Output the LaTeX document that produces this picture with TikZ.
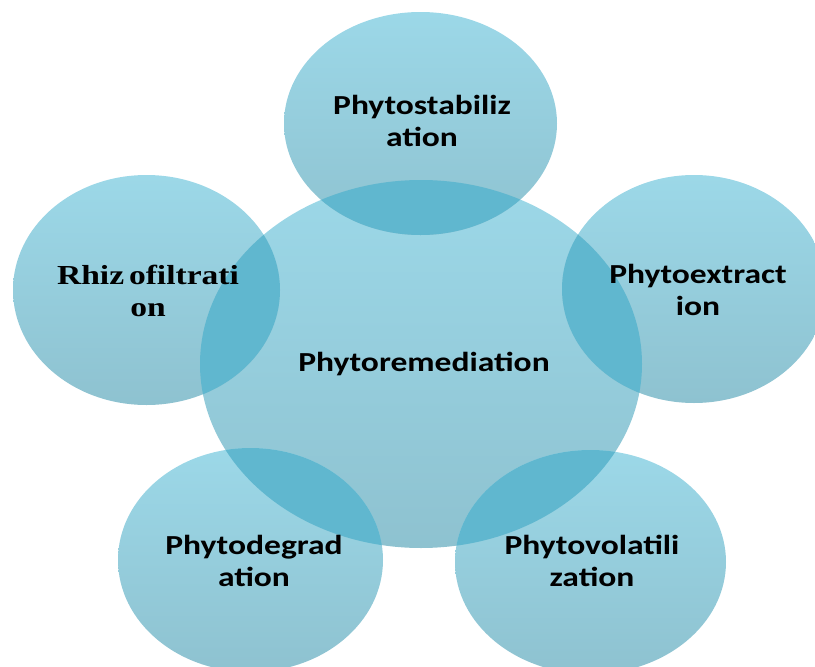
\documentclass[tikz,border=0pt]{standalone}
\usepackage{fontspec}
\setmainfont{Carlito}
\newfontfamily\rhizofont{Liberation Serif}
\usetikzlibrary{shapes.geometric}
\definecolor{bubtop}{RGB}{156,216,232}
\definecolor{bubbot}{RGB}{142,194,208}
\definecolor{overlaptop}{RGB}{96,183,207}
\definecolor{overlapbot}{RGB}{88,170,195}
\newcommand\sx[1]{\scalebox{1.22}[1]{#1}}
\begin{document}
\begin{tikzpicture}[x=1pt,y=1pt,
  bubble/.style={ellipse, inner sep=0pt, draw=none, top color=bubtop, bottom color=bubbot},
  outer/.style={bubble, path picture={\fill[overlaptop] (center.center) ellipse [x radius=221pt, y radius=184pt];}},
  lbl/.style={align=center, font=\fontsize{27.5}{32}\selectfont\bfseries, text=black, inner sep=0pt}]
\useasboundingbox (0,0) rectangle (815,-667);
\clip (0,0) rectangle (815,-667);
\node[bubble, minimum width=442pt, minimum height=368pt] (center) at (421,-364) {};
\node[outer, minimum width=273pt, minimum height=223pt] (top) at (420.5,-123.5) {};
\node[outer, minimum width=267pt, minimum height=230pt] (left) at (146.5,-290) {};
\node[outer, minimum width=264pt, minimum height=228pt] (right) at (694,-289) {};
\node[outer, minimum width=265pt, minimum height=224pt] (botleft) at (250.5,-560) {};
\node[outer, minimum width=271pt, minimum height=224pt] (botright) at (590.5,-562) {};
\node[lbl] (tremed) at (424,-364) {\sx{Phytoremediation}};
\node[lbl] (tstab) at (422,-121) {\sx{Phytostabiliz}\\\sx{ation}};
\node[lbl, font=\fontsize{27.5}{32}\selectfont\rhizofont\bfseries] (trhizo) at (148,-291) {\sx{Rhiz\kern4pt ofiltrati}\\\sx{on}};
\node[lbl] (textr) at (698,-290) {\sx{Phytoextract}\\\sx{ion}};
\node[lbl] (tdegr) at (254,-561) {\sx{Phytodegrad}\\\sx{ation}};
\node[lbl] (tvolat) at (592,-561) {\sx{Phytovolatili}\\\sx{zation}};
\end{tikzpicture}
\end{document}
